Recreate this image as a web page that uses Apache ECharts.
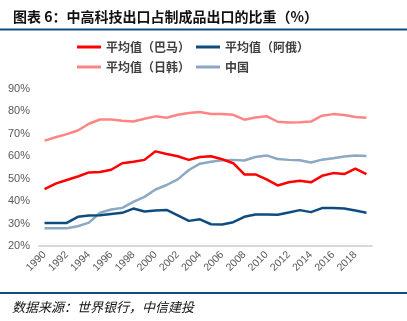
<!DOCTYPE html>
<html>
<head>
<meta charset="utf-8">
<script src="https://cdn.jsdelivr.net/npm/echarts@6/dist/echarts.min.js"></script>
<style>
  html, body { margin: 0; padding: 0; background: #fff; }
  #chart { width: 407px; height: 321px; }
</style>
</head>
<body>
<div id="chart"></div>
<script>
// Years on the category axis
const years = [];
for (let y = 1990; y <= 2019; y++) years.push(String(y));

// Share of medium/high-tech exports in manufactured exports (%)
const brazilMexico = [45.4, 47.8, 49.4, 51.0, 52.8, 53.0, 54.0, 56.9, 57.6, 58.4,
                      62.2, 61.0, 60.0, 58.4, 59.7, 60.0, 58.7, 56.9, 51.9, 51.9,
                      49.7, 47.0, 48.4, 49.1, 48.4, 51.3, 52.5, 52.1, 54.5, 52.1];
const argentinaRussia = [30.3, 30.3, 30.3, 33.0, 33.6, 33.7, 34.3, 34.8, 36.7, 35.4,
                         35.8, 36.1, 33.7, 31.2, 31.9, 29.7, 29.6, 30.6, 33.0, 34.0,
                         34.0, 33.9, 34.9, 36.0, 35.1, 36.9, 36.9, 36.7, 35.8, 34.8];
const japanKorea = [67.0, 68.5, 69.9, 71.5, 74.5, 76.4, 76.4, 75.8, 75.5, 76.7,
                    77.8, 77.2, 78.5, 79.3, 79.7, 78.9, 78.8, 78.5, 76.3, 77.3,
                    77.9, 75.4, 75.1, 75.2, 75.5, 78.1, 78.8, 78.4, 77.5, 77.2];
const china = [27.9, 27.9, 27.9, 28.8, 30.4, 34.8, 36.3, 37.0, 39.7, 41.9,
               45.2, 47.2, 49.7, 53.9, 56.7, 57.6, 58.2, 58.4, 58.1, 59.7,
               60.4, 58.8, 58.4, 58.2, 57.2, 58.5, 59.1, 59.9, 60.3, 60.1];

const names = ['平均值（巴马）', '平均值（阿俄）', '平均值（日韩）', '中国'];
const colors = ['#FF0000', '#0E4C7F', '#FF8585', '#8CA8C2'];
const values = [brazilMexico, argentinaRussia, japanKorea, china];

const chart = echarts.init(document.getElementById('chart'), null, { renderer: 'canvas' });

const legendText = { fontSize: 12, fontWeight: 'bold', color: '#404040',
                     fontFamily: '"Noto Sans CJK SC", sans-serif' };
const legendBase = {
  icon: 'rect', itemWidth: 24, itemHeight: 3, itemGap: 6, padding: 0,
  left: 77, orient: 'horizontal', textStyle: legendText, selectedMode: false
};

chart.setOption({
  animation: false,
  backgroundColor: '#fff',
  title: {
    text: '图表 6：中高科技出口占制成品出口的比重（%）',
    left: 8, top: 5,
    textStyle: { fontSize: 14, fontWeight: 'bold', color: '#111',
                 fontFamily: '"Noto Sans CJK SC", sans-serif' }
  },
  legend: [
    Object.assign({}, legendBase, { top: 41, data: [names[0], names[1]] }),
    Object.assign({}, legendBase, { top: 61, data: [names[2], names[3]] })
  ],
  grid: { left: 39, right: 35, top: 89, bottom: 75 },
  xAxis: {
    type: 'category',
    data: years,
    boundaryGap: true,
    axisLine: { lineStyle: { color: '#D9D9D9', width: 2 } },
    axisTick: { show: false },
    axisLabel: {
      interval: 1, rotate: 45, margin: 7,
      fontSize: 10.5, color: '#595959', fontFamily: '"Liberation Sans", Arial, sans-serif'
    },
    splitLine: { show: false }
  },
  yAxis: {
    type: 'value',
    min: 20, max: 90, interval: 10,
    axisLine: { show: false },
    axisTick: { show: false },
    splitLine: { show: false },
    axisLabel: {
      formatter: '{value}%', margin: 9,
      fontSize: 11, color: '#595959', fontFamily: '"Liberation Sans", Arial, sans-serif'
    }
  },
  series: names.map((n, i) => ({
    name: n,
    type: 'line',
    data: values[i],
    symbol: 'none',
    color: colors[i],
    lineStyle: { width: 2.5, color: colors[i] },
    z: [3, 3, 2, 2][i]
  })),
  graphic: [
    { type: 'rect', shape: { x: 0, y: 28.5, width: 407, height: 2 },
      style: { fill: '#0F4C81' } },
    { type: 'rect', shape: { x: 0, y: 292, width: 407, height: 2 },
      style: { fill: '#0F4C81' } },
    { type: 'text', left: 12, top: 301,
      style: { text: '数据来源：世界银行，中信建投', fill: '#111',
               font: 'italic 13px "Noto Sans CJK SC", sans-serif' } }
  ]
});
</script>
</body>
</html>
